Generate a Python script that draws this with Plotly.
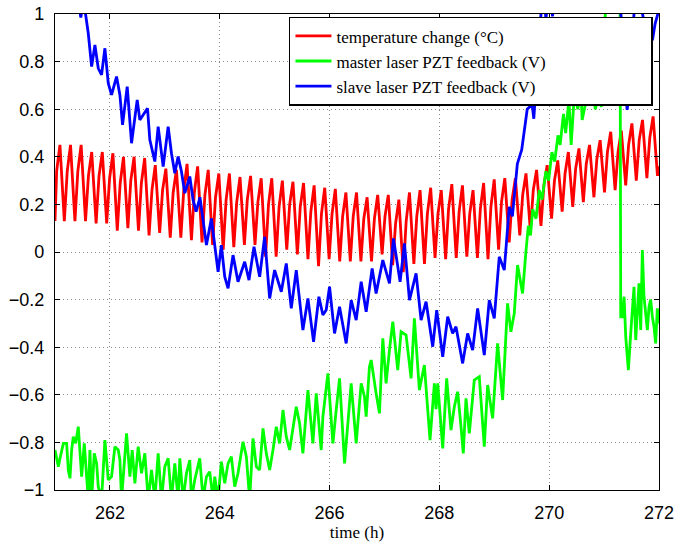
import plotly.graph_objects as go

# ---------------------------------------------------------------- data
# temperature change: one peak per oscillation cycle, the knee on the
# rising edge before it, and the trough that follows it
red_first_peak_h = 261.09
red_period_h = 0.1929
red_start = 0.13
red_end = 0.36
red_peak = [0.45, 0.45, 0.45, 0.42, 0.42, 0.415, 0.40, 0.40, 0.395, 0.365,
            0.35, 0.345, 0.37, 0.36, 0.345, 0.33, 0.33, 0.315, 0.32, 0.31,
            0.31, 0.30, 0.295, 0.29, 0.28, 0.27, 0.265, 0.25, 0.25, 0.23,
            0.24, 0.24, 0.22, 0.25, 0.26, 0.27, 0.26, 0.285, 0.28, 0.26,
            0.29, 0.305, 0.31, 0.31, 0.33, 0.345, 0.365, 0.385, 0.42, 0.435,
            0.45, 0.47, 0.505, 0.51, 0.54, 0.555, 0.57]
red_knee = [0.34, 0.34, 0.34, 0.32, 0.32, 0.31, 0.29, 0.30, 0.29, 0.26,
            0.26, 0.25, 0.26, 0.25, 0.24, 0.23, 0.22, 0.21, 0.22, 0.21,
            0.20, 0.19, 0.20, 0.19, 0.17, 0.16, 0.16, 0.15, 0.15, 0.14,
            0.14, 0.15, 0.12, 0.13, 0.15, 0.16, 0.16, 0.18, 0.17, 0.16,
            0.18, 0.19, 0.21, 0.22, 0.24, 0.26, 0.28, 0.30, 0.33, 0.35,
            0.37, 0.39, 0.42, 0.42, 0.45, 0.47, 0.48]
red_trough = [0.13, 0.13, 0.13, 0.12, 0.12, 0.09, 0.10, 0.09, 0.07, 0.08,
              0.06, 0.06, 0.05, 0.04, 0.03, 0.01, 0.02, 0.03, 0.03, -0.02,
              -0.02, 0.01, -0.01, -0.03, -0.06, -0.03, -0.04, -0.04, -0.04, -0.04,
              -0.01, -0.055, -0.085, -0.05, -0.05, -0.025, -0.03, -0.025, -0.02, -0.025,
              -0.03, 0.01, 0.04, 0.07, 0.09, 0.11, 0.14, 0.17, 0.19, 0.21,
              0.23, 0.25, 0.26, 0.28, 0.30, 0.31, 0.32]

# master laser PZT feedback (V)
green_t = [261.000, 261.061, 261.091, 261.152, 261.212, 261.242, 261.273, 261.303, 261.333, 261.376,
           261.424, 261.455, 261.485, 261.533, 261.576, 261.606, 261.636, 261.667, 261.715, 261.758,
           261.788, 261.848, 261.909, 261.970, 262.030, 262.091, 262.152, 262.182, 262.212, 262.273,
           262.303, 262.364, 262.406, 262.455, 262.515, 262.576, 262.636, 262.697, 262.758, 262.818,
           262.879, 262.939, 263.000, 263.061, 263.121, 263.182, 263.242, 263.273, 263.333, 263.394,
           263.455, 263.485, 263.545, 263.636, 263.697, 263.758, 263.818, 263.879, 263.909, 263.970,
           264.030, 264.091, 264.152, 264.212, 264.273, 264.333, 264.424, 264.485, 264.545, 264.606,
           264.667, 264.727, 264.788, 264.848, 264.909, 264.970,
           265.030, 265.091, 265.152, 265.212, 265.273, 265.394, 265.455, 265.515, 265.606, 265.697,
           265.758, 265.848, 265.879, 265.970, 266.061, 266.121, 266.182, 266.273, 266.364, 266.394,
           266.485, 266.576, 266.636, 266.667, 266.727,
           266.758, 266.848, 266.909, 266.970, 267.030, 267.091, 267.152, 267.242, 267.303, 267.394,
           267.485, 267.545, 267.636, 267.727, 267.830, 267.909, 267.940, 267.970, 268.061, 268.133,
           268.212, 268.273, 268.333, 268.394, 268.436, 268.485, 268.545, 268.636, 268.727, 268.818,
           268.879, 268.970, 269.061, 269.152, 269.242, 269.303, 269.364, 269.424, 269.515, 269.576,
           269.620, 269.660, 269.700, 269.760, 269.820, 269.870, 269.940, 269.990, 270.050, 270.100,
           270.160, 270.200, 270.260, 270.300, 270.360, 270.400, 270.460, 270.520, 270.580, 270.600,
           270.650, 270.720, 270.780, 270.840, 270.900, 270.950, 271.030, 271.060, 271.290,
           271.303, 271.333, 271.364, 271.394, 271.442, 271.485, 271.515, 271.545, 271.576, 271.606,
           271.636, 271.667, 271.697, 271.727, 271.758, 271.788, 271.818, 271.848, 271.879, 271.909,
           271.939, 271.970, 272.000]
green_v = [-0.832, -0.902, -0.867, -0.804, -0.804, -0.916, -0.951, -0.832, -0.776, -0.804,
           -0.734, -0.860, -0.944, -0.804, -0.958, -1.04, -0.832, -1.04, -0.846, -0.888,
           -0.986, -1.04, -0.790, -0.958, -0.944, -0.818, -0.832, -0.874, -1.04, -0.832,
           -0.762, -0.944, -0.832, -0.972, -0.818, -0.930, -0.846, -1.04, -0.916, -1.04,
           -0.846, -1.04, -0.902, -0.867, -1.04, -0.888, -1.04, -0.867, -1.04, -0.930,
           -0.874, -1.04, -0.958, -0.867, -1.04, -0.944, -0.923, -1.04, -0.944, -1.04,
           -0.881, -0.972, -0.888, -0.860, -0.986, -0.930, -0.797, -0.860, -1.04, -0.783,
           -0.902, -0.916, -0.741, -0.846, -0.916, -0.832,
           -0.734, -0.804, -0.664, -0.776, -0.832, -0.650, -0.720, -0.846, -0.580, -0.804,
           -0.594, -0.832, -0.692, -0.510, -0.804, -0.664, -0.531, -0.888, -0.622, -0.552,
           -0.804, -0.552, -0.608, -0.692, -0.482,
           -0.454, -0.594, -0.678, -0.363, -0.552, -0.412, -0.293, -0.496, -0.335, -0.349,
           -0.531, -0.279, -0.580, -0.475, -0.790, -0.552, -0.660, -0.552, -0.825, -0.531,
           -0.748, -0.650, -0.587, -0.734, -0.846, -0.615, -0.762, -0.538, -0.524, -0.818,
           -0.559, -0.699, -0.384, -0.622, -0.216, -0.335, -0.258, -0.055, -0.174, 0.000,
           0.110, 0.070, 0.180, 0.140, 0.260, 0.220, 0.340, 0.300, 0.420, 0.380,
           0.490, 0.450, 0.580, 0.500, 0.640, 0.450, 0.670, 0.600, 0.680, 0.555,
           0.610, 0.660, 0.690, 0.600, 0.650, 0.610, 1.000, 1.200, 1.200,
           -0.272, -0.272, -0.188, -0.356, -0.496, -0.342, -0.244, -0.146, -0.370, -0.244,
           -0.132, -0.328, 0.008, -0.188, -0.272, -0.328, -0.230, -0.200, -0.272, -0.314,
           -0.384, -0.237, -0.300]

# slave laser PZT feedback (V)
blue_t = [261.400, 261.450, 261.470, 261.500, 261.550, 261.606, 261.667, 261.727, 261.788, 261.848,
          261.909, 261.970, 262.030, 262.121, 262.182, 262.230, 262.315, 262.394, 262.497, 262.545,
          262.606, 262.685, 262.727, 262.818, 262.879, 262.970, 263.061, 263.121, 263.182, 263.242,
          263.303, 263.364, 263.455, 263.515, 263.570, 263.640, 263.758, 263.848, 263.970, 264.030,
          264.091, 264.152, 264.242, 264.333, 264.455, 264.533, 264.624, 264.727, 264.818, 264.909,
          265.000, 265.061, 265.121, 265.212, 265.303, 265.394, 265.515, 265.606, 265.709, 265.806,
          265.879, 265.939, 266.000, 266.091, 266.182, 266.303, 266.394, 266.485, 266.576, 266.667,
          266.776, 266.848, 266.970, 267.091, 267.164, 267.285, 267.364, 267.455, 267.576, 267.667,
          267.758, 267.879, 267.952, 268.061, 268.152, 268.242, 268.303, 268.424, 268.515, 268.606,
          268.697, 268.818, 268.909, 269.000, 269.091, 269.182, 269.273, 269.330, 269.420, 269.500,
          269.600, 269.690, 269.720, 269.760, 269.800, 269.860, 269.920, 269.940, 269.970, 270.050,
          270.060, 270.080, 270.500, 271.000, 271.280, 271.310, 271.330, 271.360, 271.390, 271.420,
          271.470, 271.500, 271.545, 271.600, 271.700, 271.760, 271.820, 271.880, 271.930, 271.990]
blue_v = [1.10, 1.03, 0.985, 1.03, 1.01, 0.919, 0.779, 0.870, 0.772, 0.744,
          0.856, 0.709, 0.660, 0.737, 0.660, 0.534, 0.695, 0.457, 0.639, 0.555,
          0.576, 0.604, 0.471, 0.380, 0.527, 0.359, 0.527, 0.415, 0.331, 0.401,
          0.338, 0.247, 0.317, 0.218, 0.170, 0.230, 0.029, 0.141, -0.083, 0.029,
          -0.104, -0.153, -0.013, -0.125, -0.041, -0.118, 0.022, -0.104, 0.064, -0.195,
          -0.076, -0.118, -0.167, -0.048, -0.237, -0.076, -0.328, -0.195, -0.377, -0.188,
          -0.265, -0.244, -0.146, -0.342, -0.230, -0.384, -0.202, -0.286, -0.125, -0.251,
          -0.069, -0.174, -0.034, -0.132, 0.057, -0.125, 0.036, -0.202, -0.090, -0.286,
          -0.209, -0.398, -0.244, -0.440, -0.272, -0.342, -0.314, -0.468, -0.342, -0.412,
          -0.237, -0.433, -0.202, -0.279, -0.020, -0.076, 0.190, 0.150, 0.370, 0.430,
          0.600, 0.620, 0.560, 0.700, 0.880, 1.020, 1.050, 0.975, 1.050, 1.020,
          0.990, 1.030, 1.300, 1.250, 1.050, 0.990, 0.930, 0.810, 0.667, 0.597,
          0.695, 0.849, 1.003, 1.100, 1.000, 0.933, 0.980, 0.890, 0.960, 1.010]

x_ticks = [262, 264, 266, 268, 270, 272]
y_ticks = [1, 0.8, 0.6, 0.4, 0.2, 0, -0.2, -0.4, -0.6, -0.8, -1]
y_tick_text = ["1", "0.8", "0.6", "0.4", "0.2", "0",
               "\u22120.2", "\u22120.4", "\u22120.6", "\u22120.8", "\u22121"]

# ---------------------------------------------------------------- temperature waveform
red_t, red_v = [261.0], [red_start]
for k, (pk, kn, tr) in enumerate(zip(red_peak, red_knee, red_trough)):
    tp = red_first_peak_h + k * red_period_h
    red_t += [tp - 0.06, tp, tp + 0.08]
    red_v += [kn, pk, tr]
red_t.append(272.0)
red_v.append(red_end)

# ---------------------------------------------------------------- figure
fig = go.Figure()
fig.add_trace(go.Scatter(x=red_t, y=red_v, mode="lines",
                         line=dict(color="#ff0000", width=2.8),
                         name="temperature change (\u00b0C)"))
fig.add_trace(go.Scatter(x=green_t, y=green_v, mode="lines",
                         line=dict(color="#00ff00", width=2.8),
                         name="master laser PZT feedback (V)"))
fig.add_trace(go.Scatter(x=blue_t, y=blue_v, mode="lines",
                         line=dict(color="#0000ff", width=2.8),
                         name="slave laser PZT feedback (V)"))

axis_common = dict(
    automargin=False,
    showline=True, linecolor="black", linewidth=1.2, mirror="ticks",
    ticks="inside", ticklen=5, tickwidth=1, tickcolor="black",
    showgrid=True, gridcolor="#8a8a8a", gridwidth=1, griddash="1px,3px",
    zeroline=False,
    tickfont=dict(family="Liberation Sans, Arial, sans-serif", size=18, color="black"),
)

fig.update_xaxes(range=[261, 272], tickmode="array", tickvals=x_ticks,
                 ticktext=[str(v) for v in x_ticks], ticklabelstandoff=6,
                 title=dict(text="time (h)", standoff=1,
                            font=dict(family="Liberation Serif, Times New Roman, serif",
                                      size=17, color="black")),
                 **axis_common)
fig.update_yaxes(range=[-1, 1], tickmode="array", tickvals=y_ticks,
                 ticktext=y_tick_text, ticklabelstandoff=6, **axis_common)

# legend entries laid out one per row by giving each a wide fixed width
fig.update_layout(
    width=677, height=542,
    margin=dict(l=55, r=18, t=14, b=52, autoexpand=False),
    paper_bgcolor="white", plot_bgcolor="white",
    showlegend=True,
    legend=dict(orientation="h", x=0.99, y=0.994, xanchor="right", yanchor="top",
                bgcolor="white", bordercolor="black", borderwidth=1.5,
                font=dict(family="Liberation Serif, Times New Roman, serif",
                          size=17, color="black"),
                itemwidth=36, entrywidth=310, entrywidthmode="pixels",
                tracegroupgap=0),
)

fig.write_html("out.html")
